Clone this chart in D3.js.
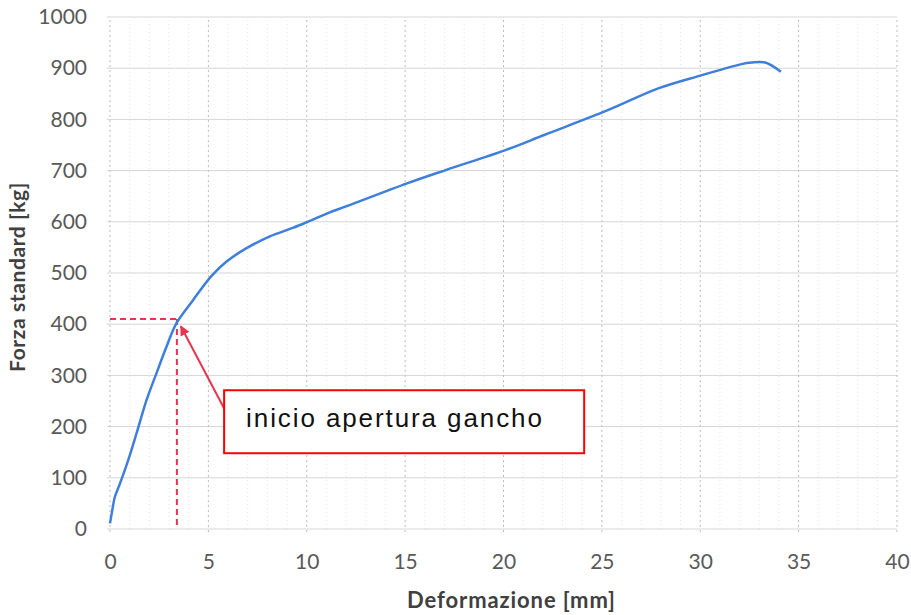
<!DOCTYPE html>
<html>
<head>
<meta charset="utf-8">
<script src="https://cdn.jsdelivr.net/npm/d3@7"></script>
<style>
  body { margin: 0; background: #fff; }
</style>
</head>
<body>
<div id="chart"></div>
<script>
// values
var deformazione = [0, 0.09, 0.25, 0.51, 0.93, 1.35, 1.86, 2.36, 2.87, 3.38, 4.22, 5.15, 5.91, 6.92, 8.1, 9.29, 10.05, 11.14, 12.0, 15.1, 17.06, 20.1, 22.1, 25.3, 27.9, 30.05, 32.1, 32.6, 33.3, 34.1];
var forza = [11, 31, 63, 89, 135, 187, 252, 304, 356, 402, 447, 494, 522, 548, 571, 588, 600, 618, 630, 675, 701, 740, 770, 818, 861, 886, 908, 911, 911, 893];
var xTicks = [0, 5, 10, 15, 20, 25, 30, 35, 40];
var yTicks = [0, 100, 200, 300, 400, 500, 600, 700, 800, 900, 1000];
var xMinor = d3.range(0, 41, 1);
var puntoApertura = [3.4, 410];
var etichetta = "inicio apertura gancho";

var width = 911;
var height = 615;
var margin = {top: 17, right: 14, bottom: 86, left: 110};
var sansFont = "Lato, 'Open Sans', sans-serif";

var svg = d3.select("#chart")
  .append("svg")
  .attr("width", width)
  .attr("height", height);

var x = d3.scaleLinear().domain([0, 40]).range([margin.left, width - margin.right]);
var y = d3.scaleLinear().domain([0, 1000]).range([height - margin.bottom, margin.top]);

// minor vertical grid
svg.append("g")
  .selectAll("line")
  .data(xMinor.filter(d => d % 5 != 0))
  .enter().append("line")
  .attr("x1", d => x(d)).attr("x2", d => x(d))
  .attr("y1", y(0)).attr("y2", y(1000))
  .attr("stroke", "#e3e3e3")
  .attr("stroke-dasharray", "1,3");

// horizontal grid
svg.append("g")
  .selectAll("line")
  .data(yTicks)
  .enter().append("line")
  .attr("x1", x(0) - 3).attr("x2", x(40))
  .attr("y1", d => y(d)).attr("y2", d => y(d))
  .attr("stroke", "#d6d6d6");

// major vertical grid
svg.append("g")
  .selectAll("line")
  .data(xTicks)
  .enter().append("line")
  .attr("x1", d => x(d)).attr("x2", d => x(d))
  .attr("y1", y(0) + 3).attr("y2", y(1000))
  .attr("stroke", "#bcbcbc")
  .attr("stroke-dasharray", "2,3");

// axes (labels only)
var xAxis = svg.append("g")
  .attr("transform", "translate(0," + (y(0) + 22) + ")")
  .call(d3.axisBottom(x).tickValues(xTicks).tickSize(0).tickFormat(d3.format("d")));
xAxis.select(".domain").remove();
xAxis.selectAll("text").attr("font-size", 21).attr("fill", "#595959").attr("font-family", sansFont);

var yAxis = svg.append("g")
  .attr("transform", "translate(" + (x(0) - 20) + ",0)")
  .call(d3.axisLeft(y).tickValues(yTicks).tickSize(0).tickFormat(d3.format("d")));
yAxis.select(".domain").remove();
yAxis.selectAll("text").attr("font-size", 21).attr("fill", "#595959").attr("font-family", sansFont);

// axis titles
svg.append("text")
  .attr("x", (x(0) + x(40)) / 2 + 8)
  .attr("y", 608)
  .attr("text-anchor", "middle")
  .attr("font-size", 22)
  .attr("font-weight", "bold")
  .attr("letter-spacing", 0.9)
  .attr("font-family", sansFont)
  .attr("fill", "#404040")
  .text("Deformazione [mm]");

svg.append("text")
  .attr("transform", "translate(25,277) rotate(-90)")
  .attr("text-anchor", "middle")
  .attr("font-size", 21)
  .attr("font-weight", "bold")
  .attr("letter-spacing", 0.6)
  .attr("font-family", sansFont)
  .attr("fill", "#404040")
  .text("Forza standard [kg]");

// red dashed guide lines
svg.append("line")
  .attr("x1", x(0)).attr("x2", x(puntoApertura[0]) + 2)
  .attr("y1", y(puntoApertura[1])).attr("y2", y(puntoApertura[1]))
  .attr("stroke", "#e8344e").attr("stroke-width", 2)
  .attr("stroke-dasharray", "6,4");
svg.append("line")
  .attr("x1", x(puntoApertura[0])).attr("x2", x(puntoApertura[0]))
  .attr("y1", y(puntoApertura[1])).attr("y2", y(0))
  .attr("stroke", "#e8344e").attr("stroke-width", 2)
  .attr("stroke-dasharray", "6,4");

// curve
var points = deformazione.map((d, i) => [d, forza[i]]);
var line = d3.line()
  .x(d => x(d[0]))
  .y(d => y(d[1]))
  .curve(d3.curveCatmullRom.alpha(0.5));

svg.append("path")
  .datum(points)
  .attr("d", line)
  .attr("fill", "none")
  .attr("stroke", "#3f7fdc")
  .attr("stroke-width", 2.5)
  .attr("stroke-linejoin", "round");

// arrow
svg.append("defs").append("marker")
  .attr("id", "head")
  .attr("viewBox", "0 0 10 10")
  .attr("refX", 9).attr("refY", 5)
  .attr("markerWidth", 5).attr("markerHeight", 5)
  .attr("orient", "auto")
  .append("path")
  .attr("d", "M0,0L10,5L0,10z")
  .attr("fill", "#e8344e");

svg.append("line")
  .attr("x1", x(5.85)).attr("y1", y(232))
  .attr("x2", x(3.6)).attr("y2", y(396))
  .attr("stroke", "#e8344e").attr("stroke-width", 2)
  .attr("marker-end", "url(#head)");

// annotation box
svg.append("rect")
  .attr("x", x(5.8)).attr("y", y(271))
  .attr("width", x(24.1) - x(5.8))
  .attr("height", y(148) - y(271))
  .attr("fill", "#fff")
  .attr("stroke", "#ff0000")
  .attr("stroke-width", 2);

svg.append("text")
  .attr("x", x(5.8) + 22)
  .attr("y", y(271) + 37)
  .attr("font-size", 26)
  .attr("letter-spacing", 1.9)
  .attr("font-family", "'Liberation Sans', Arial, sans-serif")
  .attr("fill", "#111")
  .text(etichetta);
</script>
</body>
</html>
